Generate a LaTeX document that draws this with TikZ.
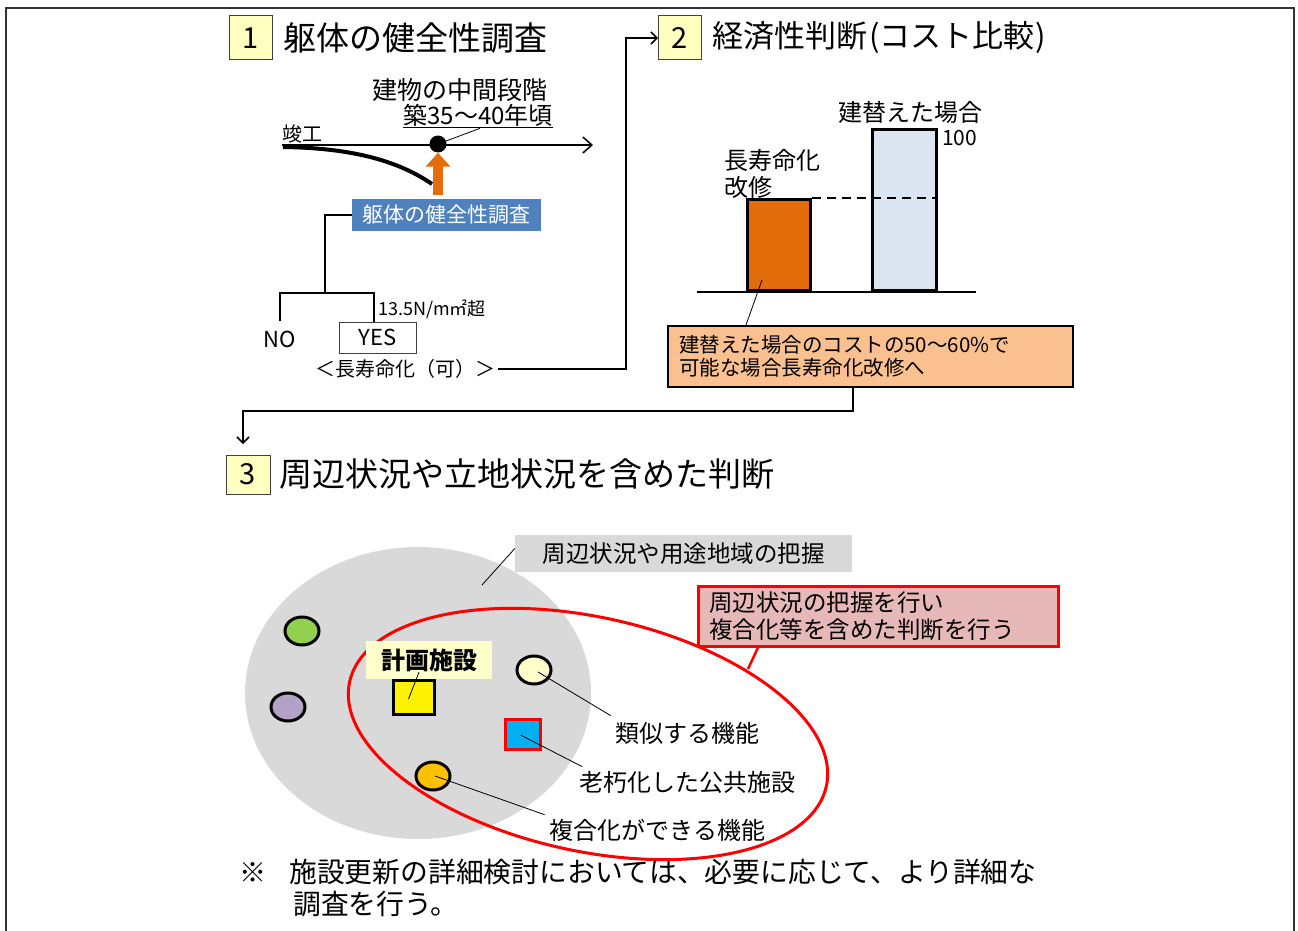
\documentclass[tikz,border=0pt]{standalone}
\usepackage{fontspec}
\setmainfont{Noto Sans CJK JP}
\usetikzlibrary{shapes.geometric, arrows.meta, positioning, calc}

\newcommand\pxfont[1]{\fontsize{#1}{#1}\selectfont}
\newcommand\pxfontl[2]{\fontsize{#1}{#2}\selectfont}

\definecolor{numyellow}{HTML}{FFFFC0}
\definecolor{surveyblue}{HTML}{4F81BD}
\definecolor{barorange}{HTML}{E36C0A}
\definecolor{barblue}{HTML}{DCE6F2}
\definecolor{notepeach}{HTML}{FAC090}
\definecolor{areagray}{HTML}{D9D9D9}
\definecolor{notepink}{HTML}{E6B9B8}
\definecolor{siteyellow}{HTML}{FFFFCC}
\definecolor{facgreen}{HTML}{92D050}
\definecolor{facpurple}{HTML}{B3A2C7}
\definecolor{facorange}{HTML}{FFC000}
\definecolor{facblue}{HTML}{00B0F0}
\definecolor{redline}{HTML}{FF0000}
\definecolor{arroworange}{HTML}{E46C0A}

\begin{document}
\begin{tikzpicture}[x=1pt, y=-1pt,
    numbox/.style={draw=black!75, line width=1pt, fill=numyellow, minimum width=43pt, minimum height=44pt, inner sep=0pt, font=\pxfont{29}},
    heading/.style={anchor=west, inner sep=0pt, font=\pxfont{33}},
    txt/.style={inner sep=0pt, font=\pxfont{24}},
    flow/.style={line width=1.5pt},
    bar/.style={draw, line width=3pt, anchor=south west, inner sep=0pt},
    facility/.style={ellipse, draw, line width=3pt, minimum width=34pt, minimum height=28pt, inner sep=0pt},
    leader/.style={line width=0.8pt}]

  \useasboundingbox (0,0) rectangle (1298,931);

  % Frame
  \draw[line width=2pt, black!80] (6,935) -- (6,8) -- (1294,8) -- (1294,935);

  % 1 Survey of the structure
  \node[numbox] (box1) at (250.5,38) {1};
  \node[heading, right=11pt of box1] (title1) {躯体の健全性調査};

  \coordinate (t0) at (282,145);
  \coordinate (t1) at (593,145);
  \draw[line width=1.5pt, -{Straight Barb[length=9pt, width=16pt]}] (t0) -- (t1);
  \draw[line width=4pt] (283,147) .. controls (355,148) and (400,162) .. (432,184);
  \node[txt, font=\pxfont{20}] (kanko) at (302,134) {竣工};
  \node[txt, font=\pxfont{25}] (stage) at (460,90) {建物の中間段階};
  \node[txt, font=\pxfont{24}] (age) at (478,116) {\underline{築35〜40年頃}};
  \node[circle, fill=black, minimum size=17pt, inner sep=0pt] (mid) at (438,144) {};
  \draw[leader] (mid) -- ([xshift=2pt]age.south);

  \node[fill=surveyblue, text=white, minimum width=189pt, minimum height=32pt, inner sep=0pt, font=\pxfont{21}] (survey) at (446.5,215) {躯体の健全性調査};
  \draw[arroworange, line width=10pt, -{Triangle[length=14pt, width=24pt]}] ([yshift=4pt]survey.north -| mid) -- (mid.south);

  % yes / no tree
  \coordinate (split) at (325,293);
  \node[txt, font=\pxfont{22}] (no) at (280,339) {NO};
  \node[draw=black!75, line width=1pt, minimum width=77pt, minimum height=31pt, inner sep=0pt, font=\pxfont{22}] (yes) at (377.5,337.5) {YES};
  \draw[line width=2.5pt] (survey.west) -| (split);
  \draw[line width=2.5pt] ([yshift=9pt]no.north) |- (split) -| ([xshift=-3.5pt]yes.north);
  \node[txt, anchor=west, font=\pxfont{18}] (limit) at (378,309) {13.5N/m㎡超};
  \node[txt, font=\pxfont{20}] (ok) at (405,369) {＜長寿命化（可）＞};

  % 2 Cost comparison
  \node[numbox] (box2) at (680,38) {2};
  \node[heading, right=10pt of box2, font=\pxfont{31}] (title2) {経済性判断\kern2pt(コスト比較\kern1pt)};
  \draw[flow, -{Straight Barb[length=6pt, width=12pt]}] ([xshift=3pt]ok.east) -| ([xshift=-32pt]box2.west) -- (box2.west);

  \coordinate (baseL) at (697,292);
  \coordinate (baseR) at (976,292);
  \draw[flow] (baseL) -- (baseR);
  \node[bar, fill=barorange, minimum width=63pt, minimum height=91pt] (barL) at (746,292) {};
  \node[bar, fill=barblue, minimum width=64pt, minimum height=161pt] (barR) at (871,292) {};
  \draw[dashed, line width=2pt, dash pattern=on 9pt off 6pt] (barL.north east) -- (barL.north east -| barR.east);
  \node[txt, anchor=north west, align=left, font=\pxfontl{24}{27}] (longlife) at (724,149) {長寿命化\\改修};
  \node[txt] (rebuild) at (910,112) {建替えた場合};
  \node[txt, anchor=west, font=\pxfont{21}] (hundred) at (942,138) {100};

  \node[draw, line width=2pt, fill=notepeach, anchor=north west, minimum width=405pt, minimum height=61pt,
        inner xsep=11pt, align=left, text width=383pt, font=\pxfontl{20.5}{23}] (cost) at (667,325)
        {建替えた場合のコストの50〜60\%で\\可能な場合長寿命化改修へ};
  \coordinate (barpt) at (762,280);
  \draw[leader] (barpt) -- ([xshift=79pt]cost.north west);

  \coordinate (bend2) at (853,411);
  \coordinate (arr3) at (243,444);
  \draw[flow, -{Straight Barb[length=6pt, width=12pt]}] (bend2 |- cost.south) -- (bend2) -| (arr3);

  % 3 Surroundings and location
  \node[numbox, minimum width=44pt, minimum height=39pt] (box3) at (248,474.5) {3};
  \node[heading, right=9pt of box3] (title3) {周辺状況や立地状況を含めた判断};

  \node[ellipse, fill=areagray, minimum width=346pt, minimum height=292pt, inner sep=0pt] (area) at (418,693) {};
  \node[fill=areagray, minimum width=337pt, minimum height=37pt, inner sep=0pt, font=\pxfont{23.5}] (arealbl) at (683.5,553.5) {周辺状況や用途地域の把握};
  \coordinate (areapt) at (482,585);
  \draw[leader] (areapt) -- ([yshift=5pt]arealbl.west);

  \coordinate (ring) at (588,734);
  \draw[redline, line width=3pt, rotate around={-12.35:(ring)}] (ring) ellipse [x radius=244pt, y radius=117pt];
  \node[draw=redline, line width=2.5pt, fill=notepink, anchor=north west, minimum width=360pt, minimum height=60pt,
        inner xsep=11pt, align=left, text width=338pt, font=\pxfontl{23.5}{27}] (combine) at (697,585)
        {周辺状況の把握を行い\\複合化等を含めた判断を行う};
  \coordinate (ringpt) at (748,669);
  \draw[redline, line width=2.5pt] ([xshift=61pt]combine.south west) -- (ringpt);

  \node[facility, fill=facgreen] (green) at (302,631) {};
  \node[facility, fill=facpurple] (purple) at (288,707) {};
  \node[facility, fill=siteyellow] (similar) at (534,670) {};
  \node[facility, fill=facorange] (joint) at (433,776) {};
  \node[draw, line width=3pt, fill=yellow, minimum width=41pt, minimum height=34pt, inner sep=0pt] (site) at (413.5,697) {};
  \node[draw=redline, line width=3pt, fill=facblue, minimum width=35pt, minimum height=30pt, inner sep=0pt] (aged) at (522.5,734) {};

  \node[fill=siteyellow, minimum width=126pt, minimum height=38pt, inner sep=0pt, font=\pxfont{24}\bfseries] (sitelbl) at (429,660) {計画施設};
  \draw[leader] ([shift={(-10,-7)}]sitelbl.south) -- ([shift={(-5,2)}]site.center);

  \node[txt] (similarlbl) at (687,733) {類似する機能};
  \node[txt] (agedlbl) at (687.5,782) {老朽化した公共施設};
  \node[txt] (jointlbl) at (657.5,830) {複合化ができる機能};
  \draw[leader] ([shift={(4,2)}]similar.center) -- ([shift={(-4,-6)}]similarlbl.north west);
  \draw[leader] ([shift={(-2,1)}]aged.center) -- ([shift={(3,-4)}]agedlbl.north west);
  \draw[leader] ([shift={(2,0)}]joint.center) -- ([shift={(-5,-4)}]jointlbl.north west);

  % Note
  \node[txt, font=\pxfont{27}] (mark) at (253,873) {※};
  \node[txt, anchor=north west, align=left, font=\pxfontl{27.8}{32}] (note) at (289,859)
        {施設更新の詳細検討においては、必要に応じて、より詳細な\\\hspace*{4pt}調査を行う。};

\end{tikzpicture}
\end{document}
